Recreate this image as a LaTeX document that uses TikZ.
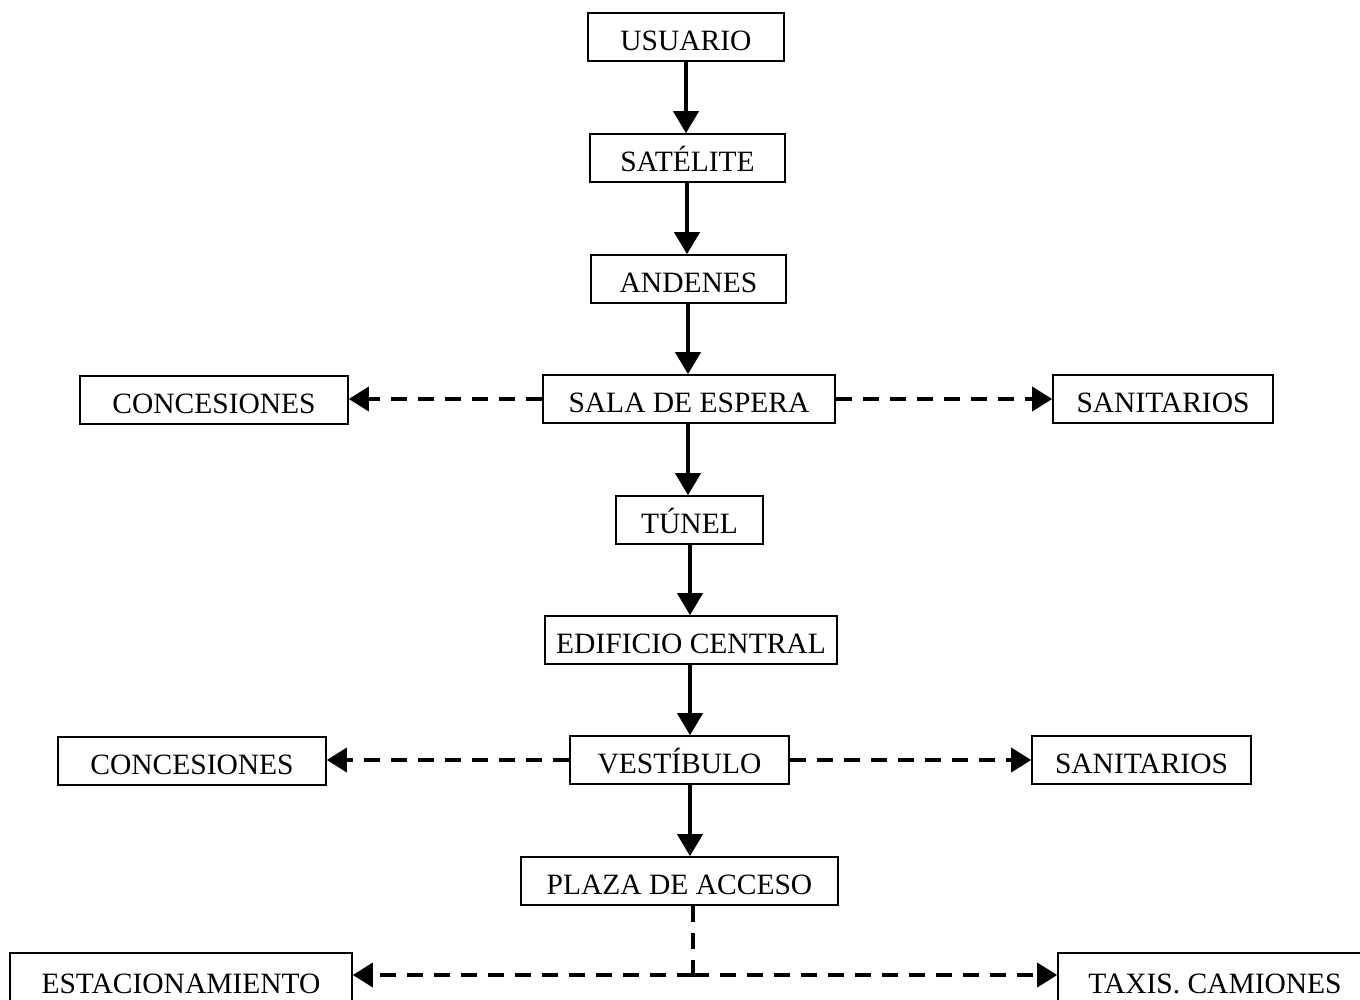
\documentclass[tikz,border=0pt]{standalone}
\usepackage{fontspec}
\setmainfont{Liberation Serif}
\usetikzlibrary{arrows.meta}
\begin{document}
\begin{tikzpicture}[x=1pt,y=-1pt,
  box/.style={draw,line width=1.6pt,rectangle,inner sep=0pt,minimum height=48pt,
    text height=26.5pt,text depth=0pt,
    font=\fontsize{29.5}{33}\selectfont},
  solidarrow/.style={line width=4pt,-{Triangle[length=22pt,width=25pt]}},
  dasharrow/.style={line width=3.5pt,dash pattern=on 16pt off 11pt,-{Triangle[length=20pt,width=24pt]}},
  dashline/.style={line width=3.5pt,dash pattern=on 16pt off 11pt}]
\useasboundingbox (0,0) rectangle (1360,999);
\clip (0,0) rectangle (1360,999);
\fill[white] (0,0) rectangle (1360,999);
\node[box,minimum width=196pt] (usuario) at (686,37) {USUARIO};
\node[box,minimum width=195pt] (satelite) at (687.5,158) {SATÉLITE};
\node[box,minimum width=195pt] (andenes) at (688.5,279) {ANDENES};
\node[box,minimum width=292pt] (sala) at (689,399) {SALA DE ESPERA};
\node[box,minimum width=268pt] (conc1) at (214,400) {CONCESIONES};
\node[box,minimum width=220pt] (sani1) at (1163,399) {SANITARIOS};
\node[box,minimum width=147pt] (tunel) at (689.5,520) {TÚNEL};
\node[box,minimum width=292pt] (edif) at (691,640) {EDIFICIO CENTRAL};
\node[box,minimum width=219pt] (vest) at (679.5,760) {VESTÍBULO};
\node[box,minimum width=268pt] (conc2) at (192,761) {CONCESIONES};
\node[box,minimum width=219pt] (sani2) at (1141.5,760) {SANITARIOS};
\node[box,minimum width=317pt] (plaza) at (679.5,881) {PLAZA DE ACCESO};
\node[box,minimum width=342pt,minimum height=54pt] (estac) at (181,980) {ESTACIONAMIENTO};
\node[box,minimum width=314pt,minimum height=54pt] (taxis) at (1215,980) {TAXIS. CAMIONES};
\coordinate (j) at (693,975);
\draw[solidarrow] (usuario.south -| 686,0) -- (satelite.north -| 686,0);
\draw[solidarrow] (satelite.south -| 687,0) -- (andenes.north -| 687,0);
\draw[solidarrow] (andenes.south -| 688,0) -- (sala.north -| 688,0);
\draw[solidarrow] (sala.south -| 688,0) -- (tunel.north -| 688,0);
\draw[solidarrow] (tunel.south -| 690,0) -- (edif.north -| 690,0);
\draw[solidarrow] (edif.south -| 690,0) -- (vest.north -| 690,0);
\draw[solidarrow] (vest.south -| 690,0) -- (plaza.north -| 690,0);
\draw[dasharrow] (sala.west) -- (conc1.east |- sala.west);
\draw[dasharrow] (sala.east) -- (sani1.west |- sala.east);
\draw[dasharrow] (vest.west) -- (conc2.east |- vest.west);
\draw[dasharrow] (vest.east) -- (sani2.west |- vest.east);
\draw[dashline] (plaza.south -| j) -- (j);
\draw[dasharrow] (j) -- (estac.east |- j);
\draw[dasharrow] (j) -- (taxis.west |- j);
\end{tikzpicture}
\end{document}
